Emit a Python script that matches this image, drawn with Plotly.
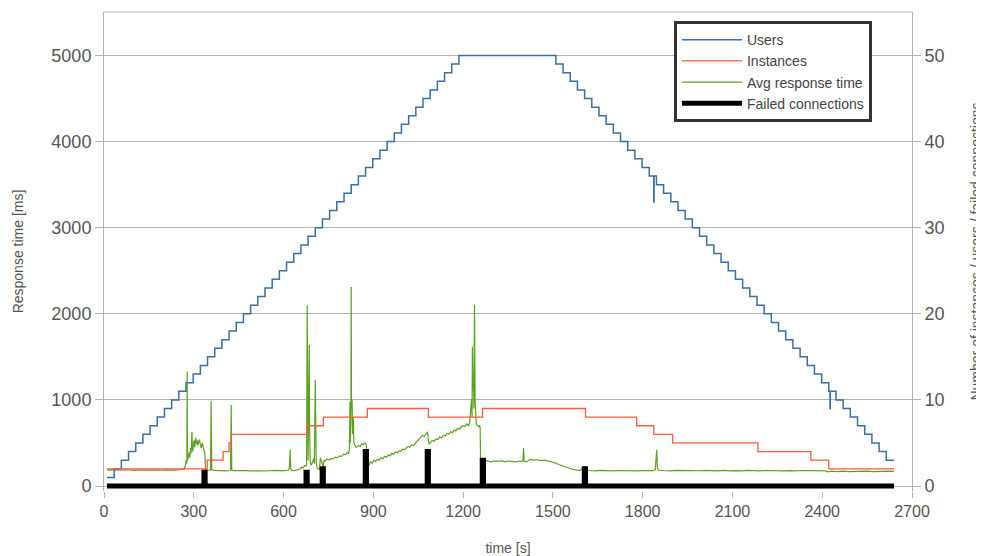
import plotly.graph_objects as go

# ---------------- data ----------------
users_t = [10, 34, 58, 82, 106, 130, 154, 178, 202, 226, 250, 274, 298, 322, 346, 370, 394, 418,
           442, 466, 490, 514, 538, 562, 586, 610, 634, 658, 682, 706, 730, 754, 778, 802, 826,
           850, 874, 898, 922, 946, 970, 994, 1018, 1042, 1066, 1090, 1114, 1138, 1162, 1186,
           1510, 1534, 1558, 1582, 1606, 1630, 1654, 1678, 1702, 1726, 1750, 1774, 1798, 1822,
           1837, 1838,
           1846, 1870, 1894, 1918, 1942, 1966, 1990, 2014, 2038, 2062, 2086, 2110, 2134, 2158,
           2182, 2206, 2230, 2254, 2278, 2302, 2326, 2350, 2374, 2398, 2422,
           2426, 2427,
           2446, 2470, 2494, 2518, 2542, 2566, 2590, 2614, 2640]
users_v = [1, 2, 3, 4, 5, 6, 7, 8, 9, 10, 11, 12, 13, 14, 15, 16, 17, 18,
           19, 20, 21, 22, 23, 24, 25, 26, 27, 28, 29, 30, 31, 32, 33, 34, 35,
           36, 37, 38, 39, 40, 41, 42, 43, 44, 45, 46, 47, 48, 49, 50,
           49, 48, 47, 46, 45, 44, 43, 42, 41, 40, 39, 38, 37, 36,
           33, 36,
           35, 34, 33, 32, 31, 30, 29, 28, 27, 26, 25, 24, 23, 22,
           21, 20, 19, 18, 17, 16, 15, 14, 13, 12, 11,
           9, 11,
           10, 9, 8, 7, 6, 5, 4, 3, 3]

inst_t = [10, 345, 398, 418, 425, 679, 733, 880, 1084, 1265, 1609, 1780, 1837, 1900, 2185, 2362, 2422, 2640]
inst_v = [2, 3, 4, 5, 6, 7, 8, 9, 8, 9, 8, 7, 6, 5, 4, 3, 2, 2]

resp_t = [10, 22, 34, 46, 58, 70, 82, 94, 106, 118, 130, 142, 154, 166, 178, 190, 202, 214, 226, 238, 250, 262, 268,
          272, 275, 277, 278, 279, 282, 285, 287, 289, 291, 293, 294, 295, 297, 299, 301, 303, 305, 307, 309, 311,
          313, 316, 319, 322, 325, 328, 331, 334, 337, 339, 342, 348, 353, 356, 358, 360,
          365, 380, 395, 410, 420, 423, 425, 427, 430, 445, 460, 475, 490, 505, 520, 535, 550, 565, 580, 595,
          605, 612, 618, 620, 622, 624, 628, 640, 650, 656, 660,
          662, 666, 670, 674, 677, 679, 680, 682, 684, 686, 687, 689, 692, 695, 698, 701, 703, 706, 707, 709,
          712, 716, 720, 723, 726, 729, 731, 733, 735,
          738, 745, 752, 759, 766, 773, 780, 787, 794, 801, 808, 813, 817, 820, 822, 823, 825, 826, 827, 829,
          831, 833, 835, 838, 842, 846, 851, 856, 861, 866, 871, 875, 877,
          878, 882, 886, 890, 896, 902, 908, 914, 920, 926, 932, 938, 944, 950, 956, 962, 968, 974, 980, 986,
          992, 998, 1004, 1010, 1016, 1022, 1028, 1034, 1040, 1046, 1052, 1058, 1064, 1070, 1076, 1081,
          1084, 1087, 1092, 1098, 1104, 1110, 1116, 1122, 1128, 1134, 1140, 1146, 1152, 1158, 1164, 1170,
          1176, 1182, 1188, 1194, 1200, 1206, 1212, 1218, 1222, 1225, 1228, 1230, 1231, 1233, 1235, 1236,
          1238, 1240, 1242, 1244, 1248, 1252, 1255, 1257, 1259, 1261, 1264,
          1268, 1280, 1292, 1304, 1316, 1328, 1340, 1352, 1364, 1376, 1388, 1396, 1400, 1402, 1404, 1412,
          1425, 1436, 1448, 1460, 1472, 1484, 1492, 1506, 1520, 1535, 1550, 1565, 1580, 1590, 1598, 1604,
          1608, 1614,
          1620, 1640, 1660, 1680, 1700, 1720, 1740, 1760, 1780, 1800, 1820, 1835, 1842, 1845, 1847, 1849,
          1852, 1870, 1890, 1910, 1930, 1950, 1970, 1990, 2010, 2030, 2050, 2070, 2090, 2110, 2130, 2150,
          2170, 2190, 2210, 2230, 2250, 2270, 2290, 2310, 2330, 2350, 2370, 2390, 2410, 2420, 2430, 2450,
          2470, 2490, 2510, 2530, 2550, 2570, 2590, 2610, 2630, 2640]
resp_v = [188, 184, 190, 186, 183, 189, 185, 187, 182, 188, 186, 184, 189, 185, 187, 183, 188, 186, 190, 185, 189, 192, 196,
          240, 300, 260, 1330, 300, 340, 390, 330, 440, 380, 520, 630, 460, 400, 480, 530, 450, 500, 560, 490, 530,
          470, 510, 540, 480, 440, 500, 460, 420, 380, 210, 185, 183, 188, 186, 990, 190,
          182, 178, 181, 176, 180, 185, 940, 190, 178, 180, 176, 179, 175, 180, 177, 174, 178, 176, 181, 175,
          179, 177, 185, 250, 420, 200, 180, 182, 190, 200, 215,
          220, 210, 235, 230, 250, 2100, 400, 300, 900, 1640, 700, 280, 240, 260, 290, 320, 260, 1230, 600, 280,
          210, 195, 190, 325, 300, 270, 240, 220, 300,
          290, 310, 300, 320, 315, 335, 330, 350, 345, 370, 365, 390, 380, 420, 980, 500, 700, 2310, 900, 1000,
          600, 800, 500, 470, 450, 455, 470, 460, 490, 480, 500, 490, 470,
          215, 260, 240, 280, 265, 300, 285, 310, 300, 330, 315, 345, 335, 360, 350, 380, 370, 395, 385, 410,
          400, 430, 420, 445, 460, 450, 480, 470, 500, 520, 540, 560, 590, 575, 610, 630,
          520, 490, 510, 530, 520, 550, 540, 570, 560, 590, 580, 610, 600, 630, 620, 650,
          640, 670, 660, 690, 700, 690, 720, 700, 740, 900, 1000, 800, 1620, 1100, 1230, 900,
          2105, 1000, 800, 720, 700, 690, 700, 680, 105, 300, 290,
          285, 295, 280, 290, 285, 295, 280, 290, 285, 280, 290, 285, 300, 440, 290, 280,
          310, 300, 305, 295, 300, 290, 285, 270, 250, 230, 210, 195, 185, 180, 200, 225,
          210, 185,
          180, 176, 182, 178, 175, 180, 177, 182, 176, 179, 175, 178, 190, 300, 420, 220,
          185, 180, 176, 181, 178, 175, 180, 177, 182, 178, 176, 181, 175, 179, 176, 182,
          178, 175, 180, 177, 181, 176, 179, 175, 180, 177, 182, 178, 176, 165, 172, 168,
          172, 167, 171, 168, 172, 167, 171, 168, 172, 170]

fail_t = [10, 334, 334, 338, 338, 675, 675, 679, 679, 729, 729, 733, 733, 873, 873, 877, 877,
          1080, 1080, 1084, 1084, 1264, 1264, 1268, 1268, 1605, 1605, 1609, 1609, 2640]
fail_v = [0, 0, 1.6, 1.6, 0, 0, 1.6, 1.6, 0, 0, 2, 2, 0, 0, 4, 4, 0,
          0, 4, 4, 0, 0, 3, 3, 0, 0, 2, 2, 0, 0]

x_ticks = [0, 300, 600, 900, 1200, 1500, 1800, 2100, 2400, 2700]

# ---------------- figure ----------------
GRID = "#b3b3b3"
TXT = "#555555"
FONT = "Liberation Sans, Arial, sans-serif"

fig = go.Figure()
fig.add_trace(go.Scatter(x=resp_t, y=resp_v, name="Avg response time", mode="lines",
                         line=dict(color="#5ca21e", width=1.2), yaxis="y", legendrank=3))
fig.add_trace(go.Scatter(x=users_t, y=users_v, name="Users", mode="lines", line_shape="hv",
                         line=dict(color="#3a6ea5", width=1.5), yaxis="y2", legendrank=1))
fig.add_trace(go.Scatter(x=inst_t, y=inst_v, name="Instances", mode="lines", line_shape="hv",
                         line=dict(color="#ff5a3c", width=1.3), yaxis="y2", legendrank=2))
fig.add_trace(go.Scatter(x=fail_t, y=fail_v, name="Failed connections", mode="lines",
                         line=dict(color="#000000", width=5), yaxis="y2", legendrank=4))

# the page body has an 8px margin, so the figure is 8px smaller and margins are shifted
fig.update_layout(
    width=976, height=548,
    margin=dict(l=96, r=72, t=4, b=65),
    paper_bgcolor="white", plot_bgcolor="white",
    font=dict(family=FONT, color=TXT),
    showlegend=True,
    legend=dict(x=0.7054, y=0.981, xanchor="left", yanchor="top",
                bordercolor="#333333", borderwidth=3, bgcolor="white",
                font=dict(size=14, color="#444444"), itemwidth=60,
                tracegroupgap=0),
    xaxis=dict(range=[0, 2700], tickvals=x_ticks, ticks="outside", ticklen=6, tickcolor=GRID,
               showgrid=False, zeroline=False, showline=False, automargin=False,
               tickfont=dict(size=16, color=TXT),
               title=dict(text="time [s]", font=dict(size=14, color=TXT), standoff=24)),
    yaxis=dict(range=[-58, 5505], tickvals=[0, 1000, 2000, 3000, 4000, 5000], ticks="outside",
               ticklen=8, tickcolor=GRID, showgrid=True, gridcolor=GRID, gridwidth=1,
               zeroline=False, showline=True, linecolor=GRID, linewidth=1, automargin=False,
               tickfont=dict(size=18, color=TXT),
               title=dict(text="Response time [ms]", font=dict(size=14, color=TXT), standoff=24)),
    yaxis2=dict(range=[-0.58, 55.05], tickvals=[0, 10, 20, 30, 40, 50], overlaying="y", side="right",
                ticks="outside", ticklen=8, tickcolor=GRID, showgrid=False, zeroline=False,
                showline=True, linecolor=GRID, linewidth=1, automargin=False,
                tickfont=dict(size=18, color=TXT),
                title=dict(text="Number of instances / users / failed connections",
                           font=dict(size=14, color=TXT), standoff=28)),
)
fig.add_shape(type="line", xref="paper", yref="paper", x0=0, x1=1, y0=1, y1=1,
              line=dict(color=GRID, width=1))

fig.write_html("out.html")
